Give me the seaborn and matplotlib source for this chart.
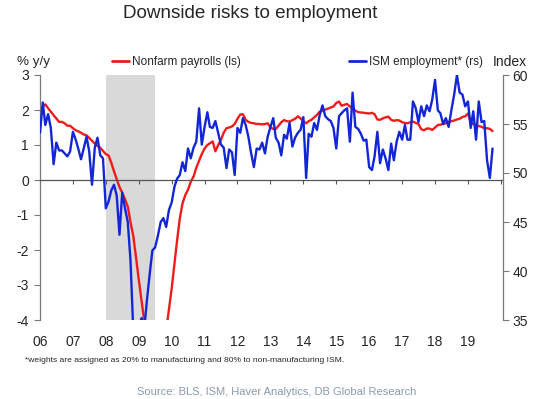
import numpy as np
import pandas as pd
import matplotlib
matplotlib.use("Agg")
import matplotlib.pyplot as plt
import matplotlib.dates as mdates
from matplotlib.lines import Line2D
import seaborn as sns

# ---------------- data ----------------
start_month = "2006-01-01"

# Nonfarm payrolls, % y/y (left scale), monthly from Jan 2006
nfp_yoy = [
    2.0, 2.1, 2.16, 2.05, 1.95, 1.85, 1.76, 1.66, 1.66, 1.62, 1.55, 1.55,
    1.48, 1.42, 1.39, 1.35, 1.3, 1.28, 1.2, 1.12, 1.04, 0.97, 0.92, 0.83,
    0.74, 0.7, 0.5, 0.25, 0.02, -0.2, -0.36, -0.55, -0.76, -1.2, -1.6, -2.2,
    -2.85, -3.45, -4.0, -4.5, -4.9, -5.1, -5.2, -5.2, -5.0, -4.7, -4.3, -3.7,
    -3.1, -2.4, -1.75, -1.1, -0.67, -0.43, -0.28, -0.05, 0.1, 0.35, 0.55, 0.74,
    0.9, 1.0, 1.05, 1.1, 0.82, 1.0, 1.14, 1.35, 1.48, 1.5, 1.53, 1.6,
    1.75, 1.87, 1.88, 1.72, 1.66, 1.63, 1.62, 1.6, 1.6, 1.59, 1.6, 1.62,
    1.5, 1.46, 1.46, 1.55, 1.65, 1.71, 1.68, 1.67, 1.71, 1.75, 1.82, 1.76,
    1.68, 1.62, 1.68, 1.72, 1.79, 1.86, 1.95, 1.98, 2.01, 2.04, 2.07, 2.1,
    2.2, 2.24, 2.12, 2.15, 2.17, 2.1, 2.04, 1.98, 1.94, 1.93, 1.92, 1.91,
    1.9, 1.92, 1.88, 1.73, 1.72, 1.76, 1.79, 1.81, 1.72, 1.69, 1.71, 1.7,
    1.65, 1.63, 1.62, 1.65, 1.67, 1.63, 1.6, 1.45, 1.42, 1.47, 1.47, 1.43,
    1.5, 1.57, 1.58, 1.6, 1.62, 1.66, 1.68, 1.7, 1.73, 1.75, 1.8, 1.82,
    1.9, 1.65, 1.6, 1.57, 1.54, 1.52, 1.48, 1.48, 1.46, 1.4,
]

# ISM employment (weighted), index (right scale), monthly from Jan 2006
ism_emp = [
    54.1, 57.2, 54.9, 56.0, 54.6, 50.9, 53.1, 52.3, 52.3, 52.0, 51.7, 52.2,
    54.2, 53.4, 52.5, 51.4, 52.5, 53.7, 52.2, 48.8, 52.6, 53.6, 51.8, 51.5,
    46.4, 47.1, 48.2, 48.8, 47.7, 43.7, 48.0, 46.4, 45.0, 41.1, 33.9, 32.2,
    34.3, 35.2, 33.9, 37.0, 39.6, 42.1, 42.4, 43.6, 45.0, 45.4, 44.5, 46.2,
    47.0, 48.6, 49.4, 49.8, 51.1, 50.2, 52.5, 51.5, 52.6, 53.2, 56.6, 52.9,
    54.7, 56.2, 54.7, 54.6, 55.3, 54.1, 52.9, 52.6, 50.5, 52.4, 52.1, 49.8,
    54.6, 54.1, 55.6, 54.9, 53.7, 52.0, 50.6, 52.5, 52.4, 53.1, 52.0, 53.7,
    54.7, 55.6, 53.6, 53.1, 51.8, 53.9, 53.5, 55.1, 52.7, 53.6, 54.1, 54.4,
    55.7, 49.5, 54.0, 53.7, 55.1, 54.4, 55.9, 56.9, 55.8, 55.5, 55.3, 54.6,
    52.5, 55.8, 56.1, 56.4, 56.6, 53.2, 58.2, 54.7, 54.5, 54.0, 53.3, 53.4,
    50.6, 50.3, 51.7, 54.2, 51.0, 52.4, 51.5, 50.3, 53.0, 51.3, 53.2, 54.2,
    53.4, 54.9, 53.4, 53.4, 57.3, 56.6, 55.2, 56.8, 55.8, 56.9, 56.3, 57.5,
    59.5, 56.4, 56.1, 55.0, 55.6, 54.7, 56.4, 58.0, 60.0, 58.2, 58.0, 56.8,
    57.3, 54.6, 56.3, 53.4, 57.3, 55.2, 55.3, 51.3, 49.5, 52.5,
]

years = list(range(2006, 2021))
year_labels = ["06", "07", "08", "09", "10", "11", "12", "13", "14", "15",
               "16", "17", "18", "19"]
left_ticks = [-4, -3, -2, -1, 0, 1, 2, 3]
left_labels = ["-4", "-3", "-2", "-1", "0", "1", "2", "3"]
right_ticks = [35, 40, 45, 50, 55, 60]
recession = ("2008-01-01", "2009-07-01")

# ---------------- style ----------------
sns.set_style("white")
plt.rcParams["font.family"] = ["Liberation Sans", "DejaVu Sans"]

RED = "#ee1c1c"
BLUE = "#1226d6"
AXC = "#7a7a7a"

dates = pd.date_range(start_month, periods=len(nfp_yoy), freq="MS")
df = pd.DataFrame({"date": dates, "nfp": nfp_yoy, "ism": ism_emp})

fig = plt.figure(figsize=(5.5, 3.99), dpi=100)
ax = fig.add_axes([40 / 550, 1 - 320 / 399, 463 / 550, 245 / 399])
ax2 = ax.twinx()

ax.axvspan(pd.Timestamp(recession[0]), pd.Timestamp(recession[1]),
           color="#d9d9d9", lw=0, zorder=0)

sns.lineplot(data=df, x="date", y="nfp", ax=ax, color=RED, lw=1.7)
sns.lineplot(data=df, x="date", y="ism", ax=ax2, color=BLUE, lw=1.7)

# x axis
ax.set_xlim(pd.Timestamp("2006-01-01"), pd.Timestamp("2020-01-25"))
year_pos = [mdates.date2num(pd.Timestamp(f"{y}-01-01")) for y in years]
ax.set_xticks(year_pos)
ax.spines["bottom"].set_position(("data", 0))
ax.spines["bottom"].set_color("#555555")
ax.spines["bottom"].set_linewidth(0.9)
ax.tick_params(axis="x", direction="out", length=3, width=0.8,
               color="#555555", labelbottom=False, bottom=True)
ax.set_xlabel("")
ax.set_ylabel("")

sec = ax.secondary_xaxis(0.0)
sec.set_xticks(year_pos[:len(year_labels)], labels=year_labels)
sec.tick_params(length=0, pad=11, labelsize=10)
for s in sec.spines.values():
    s.set_visible(False)

# left axis
ax.set_ylim(-4, 3)
ax.set_yticks(left_ticks, labels=left_labels)
ax.tick_params(axis="y", direction="out", length=4, width=0.8, color=AXC,
               labelsize=10, pad=4, left=True)
for side in ("top", "right"):
    ax.spines[side].set_visible(False)
ax.spines["left"].set_color(AXC)
ax.spines["left"].set_linewidth(0.9)

# right axis
ax2.set_ylim(35, 60)
ax2.set_yticks(right_ticks)
ax2.tick_params(axis="y", direction="out", length=4, width=0.8, color=AXC,
                labelsize=10, pad=3, right=True)
for side in ("top", "left", "bottom"):
    ax2.spines[side].set_visible(False)
ax2.spines["right"].set_color(AXC)
ax2.spines["right"].set_linewidth(0.9)
ax2.set_xlabel("")
ax2.set_ylabel("")
ax2.grid(False)
ax.grid(False)

# texts
fig.text(250 / 550, 1 - 14 / 399, "Downside risks to employment",
         ha="center", va="center", fontsize=13.6)
fig.text(17 / 550, 1 - 62 / 399, "% y/y", ha="left", va="center", fontsize=9.6)
fig.text(527 / 550, 1 - 62 / 399, "Index", ha="right", va="center", fontsize=10)

leg_kw = dict(frameon=False, handlelength=1.45, handletextpad=0.25,
              fontsize=8.5, borderpad=0, borderaxespad=0, loc="center left")
fig.legend(handles=[Line2D([], [], color=RED, lw=2)],
           labels=["Nonfarm payrolls (ls)"],
           bbox_to_anchor=(112 / 550, 1 - 62 / 399), **leg_kw)
fig.legend(handles=[Line2D([], [], color=BLUE, lw=2)],
           labels=["ISM employment* (rs)"],
           bbox_to_anchor=(349 / 550, 1 - 62 / 399), **leg_kw)

fig.text(25 / 550, 1 - 361 / 399,
         "*weights are assigned as 20% to manufacturing and 80% to non-manufacturing ISM.",
         ha="left", va="center", fontsize=6.1)
fig.text(277 / 550, 1 - 392 / 399,
         "Source: BLS, ISM, Haver Analytics, DB Global Research",
         ha="center", va="center", fontsize=8, color="#8c99ad")

fig.savefig("out.png", dpi=100)
